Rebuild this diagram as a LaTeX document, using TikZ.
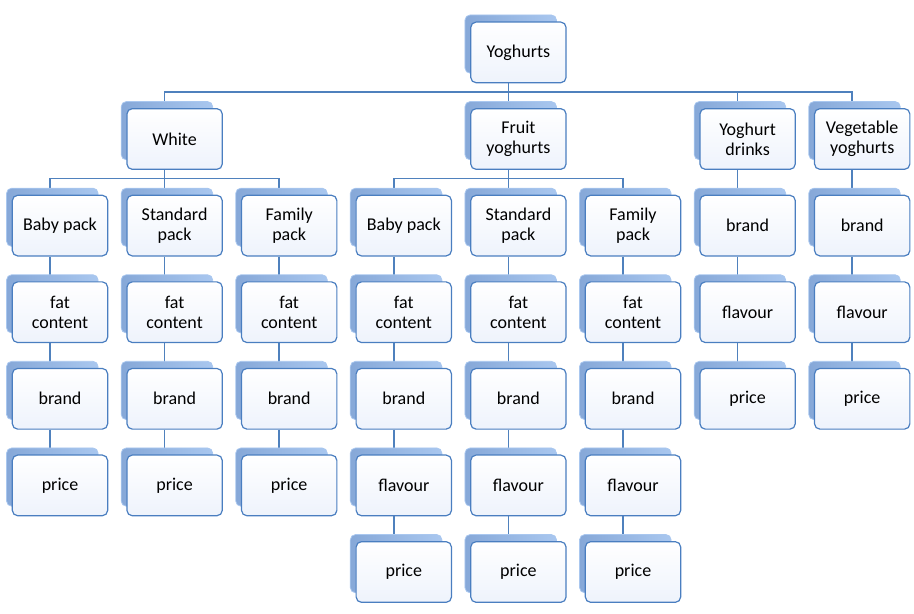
\documentclass[tikz,border=0pt]{standalone}
\usepackage{fontspec}
\setmainfont{Carlito}
\usetikzlibrary{positioning, calc, shadows, backgrounds}

\definecolor{boxline}{HTML}{4A7EC0}
\definecolor{boxfill}{HTML}{EEF3FC}
\definecolor{backtop}{HTML}{A9C7EF}
\definecolor{backside}{HTML}{86A8D8}
\definecolor{linkblue}{HTML}{4F81BD}

\begin{document}
\begin{tikzpicture}[
      node distance=18.55pt and 13.55pt,
      box/.style={
        draw=boxline,
        line width=0.9pt,
        rounded corners=4pt,
        top color=white,
        bottom color=boxfill,
        minimum width=71.5pt,
        minimum height=45.5pt,
        inner sep=0pt,
        align=center,
        font=\fontsize{13.5}{14.8}\selectfont,
        general shadow={shadow xshift=-6pt, shadow yshift=6.5pt,
          shadow scale=0.96, left color=backside, right color=backtop,
          draw=backtop, line width=0.6pt}
      },
      link/.style={
        draw=linkblue,
        line width=1.1pt
      }
    ]

    \useasboundingbox (-45pt,-291.3pt) rectangle (640.5pt,169.2pt);

    % second row
    \node[box] (wbaby) {Baby pack};
    \node[box, right=of wbaby] (wstd) {Standard\\pack};
    \node[box, right=of wstd] (wfam) {Family\\pack};
    \node[box, right=of wfam] (fbaby) {Baby pack};
    \node[box, right=of fbaby] (fstd) {Standard\\pack};
    \node[box, right=of fstd] (ffam) {Family\\pack};
    \node[box, right=of ffam] (dbrand) {brand};
    \node[box, right=of dbrand] (vbrand) {brand};

    % upper rows
    \node[box, above=of wstd] (white) {White};
    \node[box, above=of fstd] (fruit) {Fruit\\yoghurts};
    \node[box, above=of dbrand] (drinks) {Yoghurt\\drinks};
    \node[box, above=of vbrand] (veg) {Vegetable\\yoghurts};
    \node[box, above=of fruit] (yog) {Yoghurts};

    % columns below the packs
    \foreach \p in {wbaby, wstd, wfam, fbaby, fstd, ffam} {
      \node[box, below=of \p] (\p-fat) {fat\\content};
      \node[box, below=of \p-fat] (\p-brand) {brand};
    }
    \foreach \p in {wbaby, wstd, wfam}
      \node[box, below=of \p-brand] (\p-price) {price};
    \foreach \p in {fbaby, fstd, ffam} {
      \node[box, below=of \p-brand] (\p-flav) {flavour};
      \node[box, below=of \p-flav] (\p-price) {price};
    }
    \foreach \p in {dbrand, vbrand} {
      \node[box, below=of \p] (\p-flav) {flavour};
      \node[box, below=of \p-flav] (\p-price) {price};
    }

    % connectors
    \begin{scope}[on background layer]
      \foreach \a/\b in {yog/white, yog/fruit, yog/drinks, yog/veg,
          white/wbaby, white/wstd, white/wfam,
          fruit/fbaby, fruit/fstd, fruit/ffam,
          drinks/dbrand, veg/vbrand}
        \draw[link] ([xshift=-7.5pt]\a.south) -- ++(0,-6.5pt) -| ([xshift=-7.5pt]\b.north);
      \foreach \p in {wbaby, wstd, wfam, fbaby, fstd, ffam} {
        \draw[link] ([xshift=-7.5pt]\p.south) -- ([xshift=-7.5pt]\p-fat.north);
        \draw[link] ([xshift=-7.5pt]\p-fat.south) -- ([xshift=-7.5pt]\p-brand.north);
      }
      \foreach \p in {wbaby, wstd, wfam}
        \draw[link] ([xshift=-7.5pt]\p-brand.south) -- ([xshift=-7.5pt]\p-price.north);
      \foreach \p in {fbaby, fstd, ffam} {
        \draw[link] ([xshift=-7.5pt]\p-brand.south) -- ([xshift=-7.5pt]\p-flav.north);
        \draw[link] ([xshift=-7.5pt]\p-flav.south) -- ([xshift=-7.5pt]\p-price.north);
      }
      \foreach \p in {dbrand, vbrand} {
        \draw[link] ([xshift=-7.5pt]\p.south) -- ([xshift=-7.5pt]\p-flav.north);
        \draw[link] ([xshift=-7.5pt]\p-flav.south) -- ([xshift=-7.5pt]\p-price.north);
      }
    \end{scope}

    \end{tikzpicture}
\end{document}
